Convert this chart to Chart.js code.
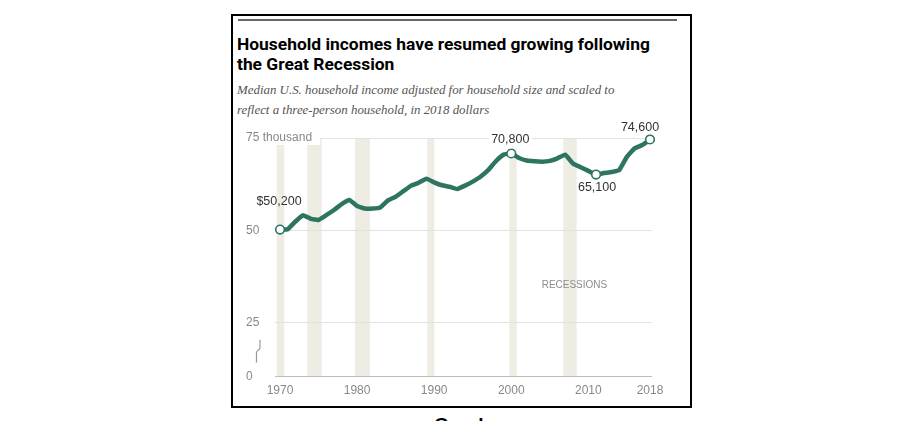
<!DOCTYPE html>
<html>
<head>
<meta charset="utf-8">
<script src="https://cdn.jsdelivr.net/npm/chart.js@4.4.0/dist/chart.umd.min.js"></script>
<style>
body{margin:0;background:#fff;width:900px;height:421px;overflow:hidden;position:relative;font-family:"Liberation Sans",Arial,sans-serif;}
#frame{position:absolute;left:231px;top:14px;width:461px;height:394px;border:2px solid #000;box-sizing:border-box;}
#rule{position:absolute;left:238px;top:19px;width:439px;height:2px;background:#666;}
#title{position:absolute;left:237px;top:34px;font-family:Roboto,sans-serif;font-weight:700;font-size:17.4px;line-height:20px;color:#000;}
#sub{position:absolute;left:237px;top:80px;font-family:"Liberation Serif",serif;font-style:italic;font-size:12.9px;line-height:20px;color:#555;}
#cap{position:absolute;left:232px;top:415px;width:460px;text-align:center;font-weight:700;font-size:19px;line-height:19px;color:#000;}
#myChart{position:absolute;left:232px;top:120px;}
</style>
</head>
<body>
<div id="frame"></div>
<div id="rule"></div>
<div id="title">Household incomes have resumed growing following<br>the Great Recession</div>
<div id="sub">Median U.S. household income adjusted for household size and scaled to<br>reflect a three-person household, in 2018 dollars</div>
<canvas id="myChart" width="460" height="287"></canvas>
<div id="cap">Graph</div>
<script>
// 1970 ... 2018, thousands of 2018 dollars
const years = [];
for (let y = 1970; y <= 2018; y++) years.push(y);
const income = [
  50.2, 50.3, 52.4, 54.1, 53.1, 52.8, 54.1, 55.5, 57.1, 58.2,
  56.6, 55.9, 55.9, 56.2, 58.1, 59.1, 60.6, 62.1, 62.9, 64.0,
  63.0, 62.2, 61.8, 61.2, 62.1, 63.2, 64.5, 66.3, 68.7, 70.5,
  70.8, 69.6, 68.9, 68.7, 68.6, 68.8, 69.5, 70.5, 68.1, 67.1,
  66.1, 65.1, 65.5, 65.8, 66.3, 69.9, 72.2, 73.1, 74.6
];
const labeledYears = [1970, 2000, 2011, 2018];
const recessionStart = [1969.57, 1973.54, 1979.73, 1989.11, 1999.75, 2006.75];
const recessionEnd   = [1970.56, 1975.41, 1981.68, 1990.02, 2000.71, 2008.49];
const xTicks = [1970, 1980, 1990, 2000, 2010, 2018];
const yBreak = 10.4; // axis is cut: this value sits where 0 is shown
const yTicks = [yBreak, 25, 50, 75];
const yTickText = ['0', '25', '50', '75 thousand'];

const green = '#2d7561';
const font = '"Liberation Sans", Arial, sans-serif';

const recessionBars = {
  id: 'recessionBars',
  beforeDraw(chart) {
    const {ctx, scales: {x, y}} = chart;
    ctx.save();
    ctx.fillStyle = '#eeece3';
    const top = y.getPixelForValue(75), bot = y.getPixelForValue(yBreak);
    recessionStart.forEach((s, i) => {
      const x1 = x.getPixelForValue(s), x2 = x.getPixelForValue(recessionEnd[i]);
      ctx.fillRect(x1, top, x2 - x1, bot - top);
    });
    ctx.restore();
  },
  // y labels sit inside the plot, left aligned, on a white patch
  beforeDatasetsDraw(chart) {
    const {ctx, chartArea, scales: {y}} = chart;
    const lx = chartArea.left - 29;
    ctx.save();
    ctx.font = '12px ' + font;
    ctx.textBaseline = 'middle';
    ctx.textAlign = 'left';
    yTicks.forEach((v, i) => {
      const py = y.getPixelForValue(v);
      const w = ctx.measureText(yTickText[i]).width;
      ctx.fillStyle = '#fff';
      ctx.fillRect(lx - 1, py - 7, w + 9, 14);
      ctx.fillStyle = '#888';
      ctx.fillText(yTickText[i], lx, py);
    });
    ctx.restore();
  }
};

const callouts = {
  id: 'callouts',
  afterDatasetsDraw(chart) {
    const {ctx} = chart;
    const pts = chart.getDatasetMeta(0).data;
    // text offsets from each marked point
    const off = {1970: [-1, -28], 2000: [-1, -14], 2011: [1, 13], 2018: [-10, -12]};
    ctx.save();
    ctx.font = '12.5px ' + font;
    ctx.textAlign = 'center';
    ctx.textBaseline = 'middle';
    labeledYears.forEach(yr => {
      const i = years.indexOf(yr);
      const p = pts[i];
      let txt = Math.round(income[i] * 1000).toLocaleString('en-US');
      if (yr === 1970) txt = '$' + txt;
      const tx = p.x + off[yr][0], ty = p.y + off[yr][1];
      if (yr === 2000) {
        const w = ctx.measureText(txt).width;
        ctx.fillStyle = '#fff';
        ctx.fillRect(tx - w / 2 - 2, ty - 8, w + 4, p.y - 5 - (ty - 8));
      }
      ctx.fillStyle = '#333';
      ctx.fillText(txt, tx, ty);
    });
    ctx.restore();
  },
  afterDraw(chart) {
    const {ctx, scales: {x, y}} = chart;
    ctx.save();
    ctx.font = '10px ' + font;
    ctx.fillStyle = '#8c8c8c';
    ctx.textAlign = 'center';
    ctx.textBaseline = 'middle';
    ctx.fillText('RECESSIONS', x.getPixelForValue(2008.2), y.getPixelForValue(35.1));
    // axis break mark
    const bx = x.getPixelForValue(1967.4);
    const y1 = y.getPixelForValue(20.4), y2 = y.getPixelForValue(18.3);
    const y3 = y.getPixelForValue(16.8), y4 = y.getPixelForValue(14.2);
    ctx.strokeStyle = '#999';
    ctx.lineWidth = 1.2;
    ctx.beginPath();
    ctx.moveTo(bx, y1);
    ctx.lineTo(bx, y2);
    ctx.bezierCurveTo(bx, y2 + 3, bx - 3.5, y3 - 3, bx - 3.5, y3);
    ctx.lineTo(bx - 3.5, y4);
    ctx.stroke();
    ctx.restore();
  }
};

new Chart(document.getElementById('myChart'), {
  type: 'line',
  data: {
    datasets: [{
      label: 'Median household income',
      data: years.map((yr, i) => ({x: yr, y: income[i]})),
      borderColor: green,
      borderWidth: 4.5,
      borderJoinStyle: 'round',
      borderCapStyle: 'round',
      tension: 0.1,
      pointRadius: ctx => labeledYears.includes(years[ctx.dataIndex]) ? 4.3 : 0,
      pointBackgroundColor: '#fff',
      pointBorderColor: green,
      pointBorderWidth: 1.6,
      clip: false
    }]
  },
  options: {
    responsive: false,
    animation: false,
    layout: {padding: {left: 43, right: 40, top: 18, bottom: 2}},
    plugins: {legend: {display: false}, tooltip: {enabled: false}},
    scales: {
      x: {
        type: 'linear',
        min: 1969.35,
        max: 2018.26,
        afterBuildTicks: s => { s.ticks = xTicks.map(v => ({value: v})); },
        grid: {display: false, drawTicks: false},
        border: {display: false},
        ticks: {
          color: '#888',
          font: {size: 12, family: font},
          padding: 7,
          maxRotation: 0,
          autoSkip: false,
          callback: v => String(v)
        }
      },
      y: {
        min: yBreak,
        max: 75,
        afterBuildTicks: s => { s.ticks = yTicks.map(v => ({value: v})); },
        border: {display: false},
        grid: {
          drawTicks: false,
          color: c => c.tick && c.tick.value === yBreak ? '#bdbdbd' : '#e2e2e2'
        },
        ticks: {display: false}
      }
    }
  },
  plugins: [recessionBars, callouts]
});
</script>
</body>
</html>
